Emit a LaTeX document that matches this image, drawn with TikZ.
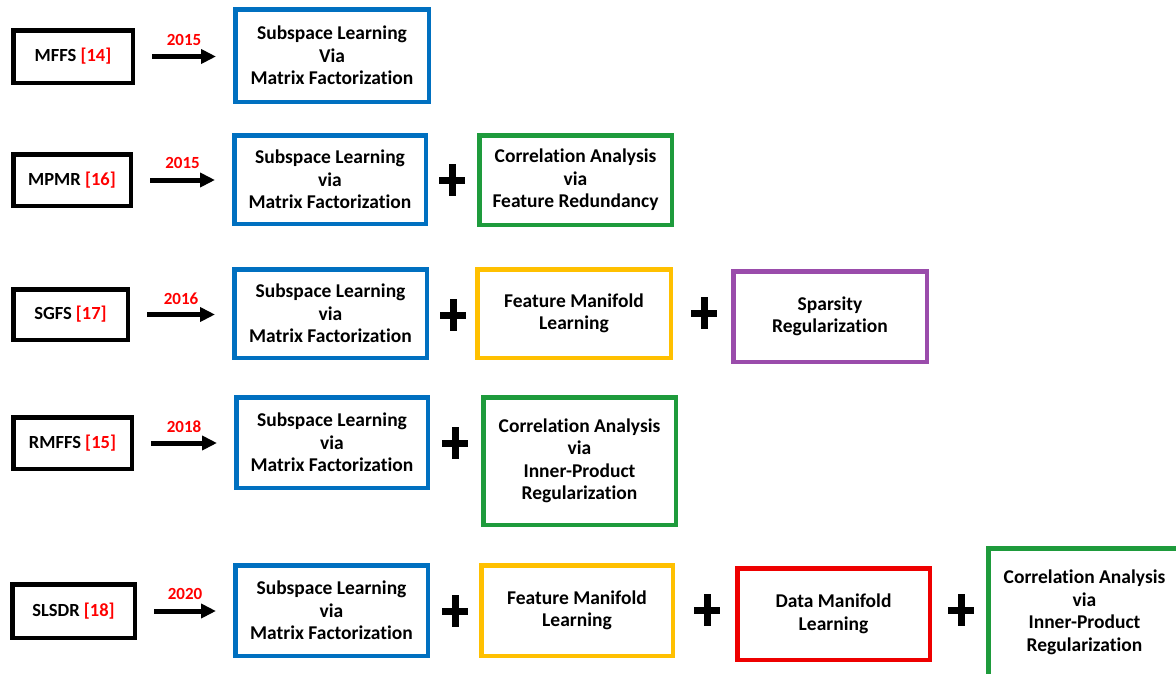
\documentclass[tikz,border=0pt]{standalone}
\usepackage{fontspec}
\setmainfont[Ligatures=NoCommon]{Carlito}
\usetikzlibrary{arrows.meta}
\definecolor{cblue}{HTML}{0070C0}
\definecolor{cgreen}{HTML}{1E9B3C}
\definecolor{cyellow}{HTML}{FFC000}
\definecolor{cpurple}{HTML}{9A4CAB}
\definecolor{cred}{HTML}{EE0000}
\definecolor{tred}{HTML}{FF0000}
\tikzset{
  txt/.style={font=\fontsize{18.5}{22.5}\selectfont\bfseries, align=center, inner sep=0pt},
  method/.style={txt, draw=black, line width=4.5pt},
  part/.style={txt, font=\fontsize{19.5}{22.5}\selectfont\bfseries, draw=#1, line width=4.5pt},
  arr/.style={line width=5pt, -{Triangle[length=15pt,width=14pt]}, shorten <=17pt, shorten >=17pt},
  year/.style={txt, text=tred, font=\fontsize{17}{20}\selectfont\bfseries},
  plus/.style={minimum width=26pt, minimum height=32pt, inner sep=0pt,
    path picture={\draw[line width=7pt] (path picture bounding box.west) -- (path picture bounding box.east)
      (path picture bounding box.north) -- (path picture bounding box.south);}}
}
\begin{document}
\begin{tikzpicture}[x=1pt,y=-1pt]
\useasboundingbox (0,0) rectangle (1176,673);
\clip (0,0) rectangle (1176,673);
% Row 1
\node[method, minimum width=119.5pt, minimum height=52.5pt] (m1) at (73,56.5) {MFFS \textcolor{tred}{[14]}};
\node[part=cblue, minimum width=193.5pt, minimum height=92.5pt] (b1) at (332,55.5) {Subspace Learning\\Via\\Matrix Factorization};
\draw[arr] (m1.east) -- (m1.east -| b1.west) node[year, midway, yshift=17pt] (y1) {2015};
% Row 2
\node[method, minimum width=117.5pt, minimum height=51.5pt] (m2) at (72,180) {MPMR \textcolor{tred}{[16]}};
\node[part=cblue, minimum width=191.5pt, minimum height=88.5pt] (b2) at (330,179.5) {Subspace Learning\\via\\Matrix Factorization};
\node[plus] (p21) at (452,180) {};
\node[part=cgreen, minimum width=192.5pt, minimum height=89.5pt] (g2) at (575.5,180) {Correlation Analysis\\via\\Feature Redundancy};
\draw[arr] (m2.east) -- (m2.east -| b2.west) node[year, midway, yshift=17pt] (y2) {2015};
% Row 3
\node[method, minimum width=114.5pt, minimum height=50.5pt] (m3) at (70.5,314.5) {SGFS \textcolor{tred}{[17]}};
\node[part=cblue, minimum width=192.5pt, minimum height=88.5pt] (b3) at (330.5,313.5) {Subspace Learning\\via\\Matrix Factorization};
\node[plus] (p31) at (453,315) {};
\node[part=cyellow, minimum width=193.5pt, minimum height=88.5pt] (f3) at (574,313.5) {Feature Manifold\\Learning};
\node[plus] (p32) at (704,313) {};
\node[part=cpurple, minimum width=193.5pt, minimum height=90.5pt] (s3) at (830,316.5) {Sparsity\\Regularization};
\draw[arr] (m3.east) -- (m3.east -| b3.west) node[year, midway, yshift=16pt] (y3) {2016};
% Row 4
\node[method, minimum width=118.5pt, minimum height=51.5pt] (m4) at (72.5,443) {RMFFS \textcolor{tred}{[15]}};
\node[part=cblue, minimum width=191.5pt, minimum height=90.5pt] (b4) at (332,442.5) {Subspace Learning\\via\\Matrix Factorization};
\node[plus] (p41) at (455,443) {};
\node[part=cgreen, minimum width=192.5pt, minimum height=127.5pt] (g4) at (579.5,461) {Correlation Analysis\\via\\Inner-Product\\Regularization};
\draw[arr] (m4.east) -- (m4.east -| b4.west) node[year, midway, yshift=16pt] (y4) {2018};
% Row 5
\node[method, minimum width=122.5pt, minimum height=53.5pt] (m5) at (73.5,611) {SLSDR \textcolor{tred}{[18]}};
\node[part=cblue, minimum width=192.5pt, minimum height=90.5pt] (b5) at (331.5,610.5) {Subspace Learning\\via\\Matrix Factorization};
\node[plus] (p51) at (455,611) {};
\node[part=cyellow, minimum width=191.5pt, minimum height=90.5pt] (f5) at (577,610.5) {Feature Manifold\\Learning};
\node[plus] (p52) at (707,610) {};
\node[part=cred, minimum width=192.5pt, minimum height=91.5pt] (d5) at (833.5,614) {Data Manifold\\Learning};
\node[plus] (p53) at (961,610) {};
\node[part=cgreen, minimum width=192.5pt, minimum height=128.5pt] (g5) at (1084.5,612.5) {Correlation Analysis\\via\\Inner-Product\\Regularization};
\draw[arr] (m5.east) -- (m5.east -| b5.west) node[year, midway, yshift=17pt] (y5) {2020};
\end{tikzpicture}
\end{document}
